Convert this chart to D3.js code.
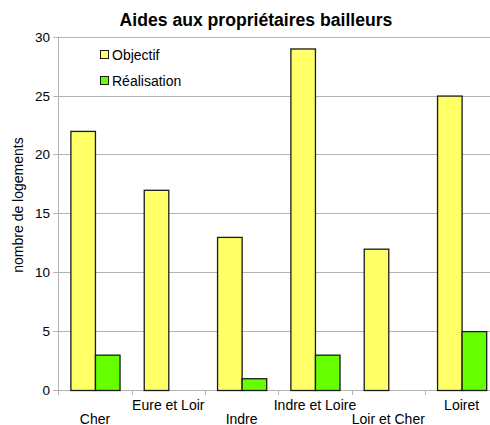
<!DOCTYPE html>
<meta charset="utf-8">
<title>Aides aux propriétaires bailleurs</title>
<style>
body { margin: 0; background: #fff; }
text { font-family: "Liberation Sans", Arial, sans-serif; }
</style>
<body>
<script src="https://d3js.org/d3.v7.min.js"></script>
<script>
var departements = ["Cher", "Eure et Loir", "Indre", "Indre et Loire", "Loir et Cher", "Loiret"];
var objectif = [22, 17, 13, 29, 12, 25];
var realisation = [3, 0, 1, 3, 0, 5];
var yTicks = [0, 5, 10, 15, 20, 25, 30];
var series = ["Objectif", "Réalisation"];
var colors = ["#ffff66", "#66ff00"];

var width = 490, height = 425;
var plotLeft = 58.3, plotTop = 36.7, plotBottom = 390, catWidth = 73.33;

var svg = d3.select("body").append("svg")
    .attr("width", width)
    .attr("height", height);

var x = d3.scaleBand()
    .domain(departements)
    .range([plotLeft, plotLeft + catWidth * departements.length])
    .paddingInner(0.33)
    .paddingOuter(0.165);

var xs = d3.scaleBand()
    .domain(series)
    .range([0, x.bandwidth()]);

var y = d3.scaleLinear()
    .domain([0, 30])
    .range([plotBottom, plotTop]);

// grid
svg.append("g").selectAll("line")
    .data(yTicks)
  .enter().append("line")
    .attr("x1", plotLeft - 5)
    .attr("x2", width)
    .attr("y1", function(d) { return Math.round(y(d)) + 0.5; })
    .attr("y2", function(d) { return Math.round(y(d)) + 0.5; })
    .style("stroke", "#b3b3b3");

// y axis line
svg.append("line")
    .attr("x1", Math.round(plotLeft) + 0.5).attr("x2", Math.round(plotLeft) + 0.5)
    .attr("y1", plotTop).attr("y2", plotBottom + 5)
    .style("stroke", "#b3b3b3");

// x ticks
svg.append("g").selectAll("line")
    .data(d3.range(departements.length + 1))
  .enter().append("line")
    .attr("x1", function(i) { return Math.round(plotLeft + i * catWidth) + 0.5; })
    .attr("x2", function(i) { return Math.round(plotLeft + i * catWidth) + 0.5; })
    .attr("y1", plotBottom)
    .attr("y2", plotBottom + 5)
    .style("stroke", "#b3b3b3");

// y labels
svg.append("g").selectAll("text")
    .data(yTicks)
  .enter().append("text")
    .attr("x", 50)
    .attr("y", function(d) { return y(d) + 5; })
    .attr("text-anchor", "end")
    .style("font-size", "13.5px")
    .text(function(d) { return d; });

// bars
var rows = departements.map(function(d, i) {
  return {dep: d, values: [objectif[i], realisation[i]]};
});
var g = svg.append("g").selectAll("g")
    .data(rows)
  .enter().append("g")
    .attr("transform", function(d) { return "translate(" + x(d.dep) + ",0)"; });
g.selectAll("rect")
    .data(function(d) { return d.values.map(function(v, j) { return {s: series[j], v: v, j: j}; }).filter(function(d) { return d.v > 0; }); })
  .enter().append("rect")
    .attr("x", function(d) { return xs(d.s) + 0.5; })
    .attr("y", function(d) { return y(d.v) + 0.5; })
    .attr("width", xs.bandwidth())
    .attr("height", function(d) { return plotBottom - y(d.v); })
    .style("fill", function(d) { return colors[d.j]; })
    .style("stroke", "#1a1a1a")
    .style("stroke-width", 1.3);

// x labels, staggered
svg.append("g").selectAll("text")
    .data(departements)
  .enter().append("text")
    .attr("x", function(d) { return x(d) + x.bandwidth() / 2; })
    .attr("y", function(d, i) { return i % 2 === 0 ? 424 : 410; })
    .attr("text-anchor", "middle")
    .style("font-size", "14px")
    .text(function(d) { return d; });

// title
svg.append("text")
    .attr("x", 256)
    .attr("y", 26)
    .attr("text-anchor", "middle")
    .style("font-size", "17.6px")
    .style("font-weight", "bold")
    .text("Aides aux propriétaires bailleurs");

// y axis title
svg.append("text")
    .attr("transform", "translate(22.5,205) rotate(-90)")
    .attr("text-anchor", "middle")
    .style("font-size", "14px")
    .text("nombre de logements");

// legend
var legend = svg.append("g").selectAll("g")
    .data(series)
  .enter().append("g")
    .attr("transform", function(d, i) { return "translate(100.5," + (50.5 + i * 26) + ")"; });
legend.append("rect")
    .attr("width", 8)
    .attr("height", 8)
    .style("fill", function(d, i) { return colors[i]; })
    .style("stroke", "#1a1a1a");
legend.append("text")
    .attr("x", 11.5)
    .attr("y", 9.5)
    .style("font-size", "14px")
    .text(function(d) { return d; });
</script>
</body>
